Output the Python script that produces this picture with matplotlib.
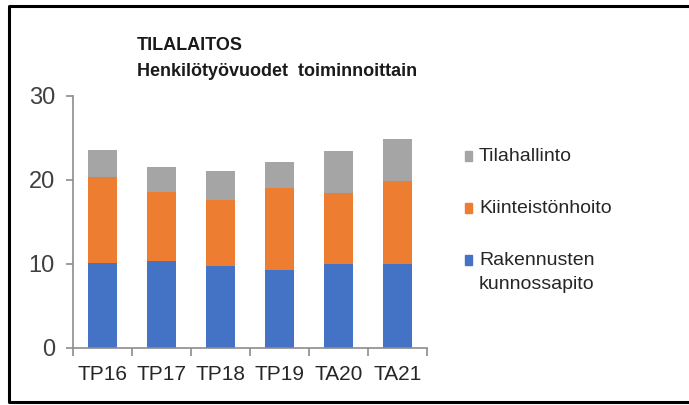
import matplotlib
matplotlib.use('Agg')
import matplotlib.pyplot as plt
from matplotlib.patches import Rectangle
from matplotlib.lines import Line2D
import numpy as np

# data
vuodet = ['TP16', 'TP17', 'TP18', 'TP19', 'TA20', 'TA21']
rakennusten = [10.1, 10.3, 9.8, 9.25, 10.0, 10.0]
kiinteisto = [10.3, 8.3, 7.8, 9.75, 8.45, 9.9]
tilahallinto = [3.2, 3.0, 3.5, 3.2, 4.95, 5.0]
nimet = ['Rakennusten\nkunnossapito', 'Kiinteistönhoito', 'Tilahallinto']
varit = ['#4472C4', '#ED7D31', '#A5A5A5']

plt.rcParams['font.family'] = ['Liberation Sans', 'DejaVu Sans']

W, H = 689, 405
fig = plt.figure(figsize=(W / 100, H / 100), dpi=100)
ax = fig.add_axes([73 / W, 57 / H, (427 - 73) / W, (348 - 96) / H])

x = np.arange(len(vuodet))
pohja = np.zeros(len(vuodet))
for arvot, vari in zip([rakennusten, kiinteisto, tilahallinto], varit):
    ax.bar(x, arvot, width=0.5, bottom=pohja, color=vari, zorder=2)
    pohja += np.array(arvot)

ax.set_xlim(-0.5, len(vuodet) - 0.5)
ax.set_ylim(0, 30)
ax.set_yticks([0, 10, 20, 30])
ax.set_xticks(x)
ax.set_xticklabels(vuodet)
ax.set_xticks(np.arange(-0.5, len(vuodet)), minor=True)

harmaa = '#8c8c8c'
for s in ['top', 'right']:
    ax.spines[s].set_visible(False)
for s in ['left', 'bottom']:
    ax.spines[s].set_color(harmaa)
    ax.spines[s].set_linewidth(1.2)
ax.tick_params(axis='y', length=5, color=harmaa, width=1.2, labelsize=17,
               labelcolor='#404040', pad=8)
ax.tick_params(axis='x', which='major', length=0, labelsize=15,
               labelcolor='#262626', pad=12)
ax.tick_params(axis='x', which='minor', length=6, color=harmaa, width=1.2)

fig.text(137 / W, 1 - 45 / H, 'TILALAITOS', fontsize=13, fontweight='bold',
         va='center', color='#1a1a1a')
fig.text(137 / W, 1 - 72 / H, 'Henkilötyövuodet  toiminnoittain', fontsize=13,
         fontweight='bold', va='center', color='#1a1a1a')

# selite käsin: harmaa ylimpänä
selite_y = [262, 210, 158]   # ensimmäisen rivin keskikohta pikseleinä ylhäältä
for nimi, vari, yy in zip(nimet, varit, selite_y):
    fig.patches.append(Rectangle((465 / W, 1 - (yy + 3) / H), 7 / W, 10 / H,
                                 transform=fig.transFigure, color=vari))
    fig.text(479 / W, 1 - (yy - 10) / H, nimi, fontsize=14, va='top',
             color='#262626', linespacing=1.55)

# kehys: vasen, ylä ja ala, oikea reuna jää kuvan ulkopuolelle
kx = [W + 5, 9, 9, W + 5]
ky = [6, 6, 402, 402]
fig.lines.append(Line2D([v / W for v in kx], [1 - v / H for v in ky],
                        transform=fig.transFigure, color='black',
                        linewidth=2.2))

fig.savefig('out.png', dpi=100)
